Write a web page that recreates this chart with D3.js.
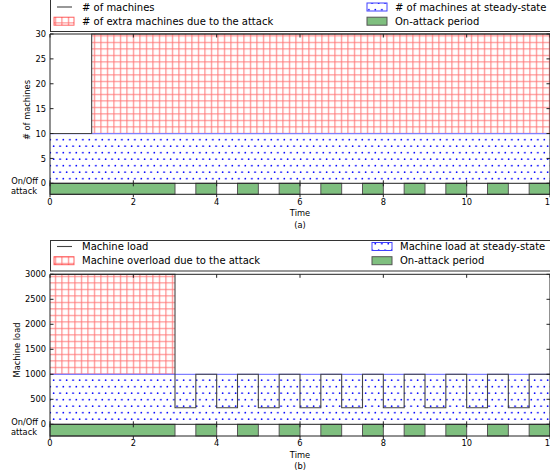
<!DOCTYPE html>
<html>
<head>
<meta charset="utf-8">
<script src="https://cdn.jsdelivr.net/npm/d3@7"></script>
<style>
  body { margin: 0; background: #fff; }
  svg { display: block; font-family: "DejaVu Sans", sans-serif; }
</style>
</head>
<body>
<svg id="svg" width="550" height="476"></svg>
<script>
/* globals d3 */

// shared
var xTicks = [0, 2, 4, 6, 8, 10, 12];
var attackPeriods = [[0, 3], [3.5, 4], [4.5, 5], [5.5, 6], [6.5, 7], [7.5, 8], [8.5, 9], [9.5, 10], [10.5, 11], [11.5, 12]];

// (a) number of machines
var machineTime = [0, 1, 1, 12];
var machineCount = [10, 10, 30, 30];
var machineSteady = 10;
var machineExtraTime = [1, 12];
var machineExtraTop = [30, 30];
var machineTicks = [0, 5, 10, 15, 20, 25, 30];
var machineLegend = ['# of machines', '# of extra machines due to the attack', '# of machines at steady-state', 'On-attack period'];

// (b) machine load
var loadTime = [0, 3, 3.5, 4, 4.5, 5, 5.5, 6, 6.5, 7, 7.5, 8, 8.5, 9, 9.5, 10, 10.5, 11, 11.5, 12];
var loadValue = [3000, 330, 1000, 330, 1000, 330, 1000, 330, 1000, 330, 1000, 330, 1000, 330, 1000, 330, 1000, 330, 1000, 1000];
var loadSteady = 1000;
var loadOverTime = [0, 3];
var loadOverTop = [3000, 3000];
var loadTicks = [0, 500, 1000, 1500, 2000, 2500, 3000];
var loadLegend = ['Machine load', 'Machine overload due to the attack', 'Machine load at steady-state', 'On-attack period'];

var CHART = (function() {
  let chart = {};
  let svg = d3.select('#svg');
  let x = d3.scaleLinear().domain([0, 12]).range([50, 550]);

  let defs = svg.append('defs');
  let red = defs.append('pattern').attr('id', 'hatchRed')
    .attr('patternUnits', 'userSpaceOnUse').attr('width', 6.5).attr('height', 6.5);
  red.append('path').attr('d', 'M0,3.5H6.5M3.5,0V6.5')
    .attr('stroke', '#ff0000').attr('stroke-opacity', 0.55).attr('stroke-width', 1);
  let blue = defs.append('pattern').attr('id', 'dotsBlue')
    .attr('patternUnits', 'userSpaceOnUse').attr('width', 6.5).attr('height', 13);
  blue.append('circle').attr('cx', 1.6).attr('cy', 3.2).attr('r', 0.85).attr('fill', '#0000ff');
  blue.append('circle').attr('cx', 4.85).attr('cy', 9.7).attr('r', 0.85).attr('fill', '#0000ff');

  // small text, a bit taller than wide like the scanned figure
  let label = function(g, px, py, txt, anchor, rot) {
    g.append('text')
      .attr('transform', 'translate(' + px + ',' + py + ')' + (rot ? ' rotate(-90)' : '') + ' scale(0.9,1)')
      .attr('text-anchor', anchor).attr('dominant-baseline', 'central')
      .attr('font-size', 9.2).text(txt);
  }

  chart.panel = function(o) {
    let g = svg.append('g');
    let y = d3.scaleLinear().domain([0, o.ticks[o.ticks.length - 1]]).range([o.y0, o.top]);
    let yb = o.y0 + o.strip;

    // steady-state
    g.append('rect').attr('x', x(0)).attr('y', y(o.steady)).attr('width', x(12) - x(0))
      .attr('height', y(0) - y(o.steady)).attr('fill', 'url(#dotsBlue)');
    // extra / overload
    let area = d3.area().x(function(d) { return x(d[0]); })
      .y0(y(o.steady)).y1(function(d) { return y(d[1]); });
    g.append('path').attr('d', area(d3.zip(o.extraTime, o.extraTop)))
      .attr('fill', 'url(#hatchRed)');
    g.append('line').attr('x1', x(0)).attr('x2', x(12))
      .attr('y1', y(o.steady)).attr('y2', y(o.steady))
      .attr('stroke', '#7f7fff').attr('stroke-width', 1.2);

    // data line
    let line = d3.line().x(function(d) { return x(d[0]); }).y(function(d) { return y(d[1]); })
      .curve(o.step ? d3.curveStepAfter : d3.curveLinear);
    g.append('path').attr('d', line(d3.zip(o.lineTime, o.lineValue)))
      .attr('fill', 'none').attr('stroke', '#444').attr('stroke-width', 1.1);

    // on-attack strip
    g.selectAll('rect.on').data(attackPeriods).enter().append('rect')
      .attr('class', 'on')
      .attr('x', function(d) { return x(d[0]); }).attr('y', o.y0)
      .attr('width', function(d) { return x(d[1]) - x(d[0]); }).attr('height', o.strip)
      .attr('fill', '#7fbf7f').attr('stroke', '#555').attr('stroke-width', 1);

    // spines
    let frame = 'M' + x(0) + ',' + yb + 'V' + o.top + 'H' + x(12) + 'V' + yb + 'Z' +
      'M' + x(0) + ',' + o.y0 + 'H' + x(12);
    g.append('path').attr('d', frame).attr('fill', 'none').attr('stroke', '#222').attr('stroke-width', 1);

    // ticks
    xTicks.forEach(function(t) {
      let px = x(t);
      g.append('path').attr('d', 'M' + px + ',' + o.top + 'v3.5M' + px + ',' + (o.y0 - 3) + 'v6M' + px + ',' + yb + 'v3')
        .attr('stroke', '#222');
      label(g, px, yb + 7.3, t, 'middle');
    });
    o.ticks.forEach(function(t) {
      let py = y(t);
      g.append('path').attr('d', 'M' + x(0) + ',' + py + 'h3.5M' + x(12) + ',' + py + 'h-3.5')
        .attr('stroke', '#222');
      label(g, x(0) - 4, py, t, 'end');
    });

    label(g, 38, o.y0 - 2.5, 'On/Off', 'end');
    label(g, 37, o.y0 + 7.5, 'attack', 'end');
    label(g, o.ylabelX, o.ylabelY, o.ylabel, 'middle', true);
    label(g, x(6), yb + 19, 'Time', 'middle');
    label(g, x(6), yb + 30.3, o.caption, 'middle');

    // legend
    let lg = svg.append('g');
    lg.append('rect').attr('x', 50.5).attr('y', o.legTop).attr('width', 520).attr('height', o.legBottom - o.legTop)
      .attr('fill', '#fff').attr('stroke', '#333').attr('stroke-width', 1);
    let r1 = o.legBottom - 24.5, r2 = o.legBottom - 10.3;
    lg.append('line').attr('x1', 57).attr('x2', 72).attr('y1', r1).attr('y2', r1)
      .attr('stroke', '#444').attr('stroke-width', 1.1);
    lg.append('rect').attr('x', 54).attr('y', r2 - 4).attr('width', 20).attr('height', 8)
      .attr('fill', 'url(#hatchRed)').attr('stroke', '#ff0000').attr('stroke-opacity', 0.6);
    lg.append('rect').attr('x', o.legX2).attr('y', r1 - 4).attr('width', 20).attr('height', 8)
      .attr('fill', 'url(#dotsBlue)').attr('stroke', '#4040ff');
    lg.append('rect').attr('x', o.legX2).attr('y', r2 - 4).attr('width', 20).attr('height', 8)
      .attr('fill', '#7fbf7f').attr('stroke', '#555');
    let pos = [[82, r1], [82, r2], [o.legX2 + 28, r1], [o.legX2 + 28, r2]];
    o.legend.forEach(function(s, i) {
      lg.append('text').attr('x', pos[i][0]).attr('y', pos[i][1])
        .attr('dominant-baseline', 'central').attr('font-size', 10).text(s);
    });
  }

  return chart;
})();

CHART.panel({
  top: 34, y0: 183.3, strip: 11, ticks: machineTicks, steady: machineSteady,
  extraTime: machineExtraTime, extraTop: machineExtraTop,
  lineTime: machineTime, lineValue: machineCount, step: false,
  ylabel: '# of machines', ylabelX: 27, ylabelY: 110, caption: '(a)',
  legTop: -2, legBottom: 31.5, legX2: 367, legend: machineLegend
});

CHART.panel({
  top: 274.3, y0: 424.3, strip: 11.7, ticks: loadTicks, steady: loadSteady,
  extraTime: loadOverTime, extraTop: loadOverTop,
  lineTime: loadTime, lineValue: loadValue, step: true,
  ylabel: 'Machine load', ylabelX: 16.5, ylabelY: 350, caption: '(b)',
  legTop: 240.5, legBottom: 271, legX2: 372, legend: loadLegend
});
</script>
</body>
</html>
